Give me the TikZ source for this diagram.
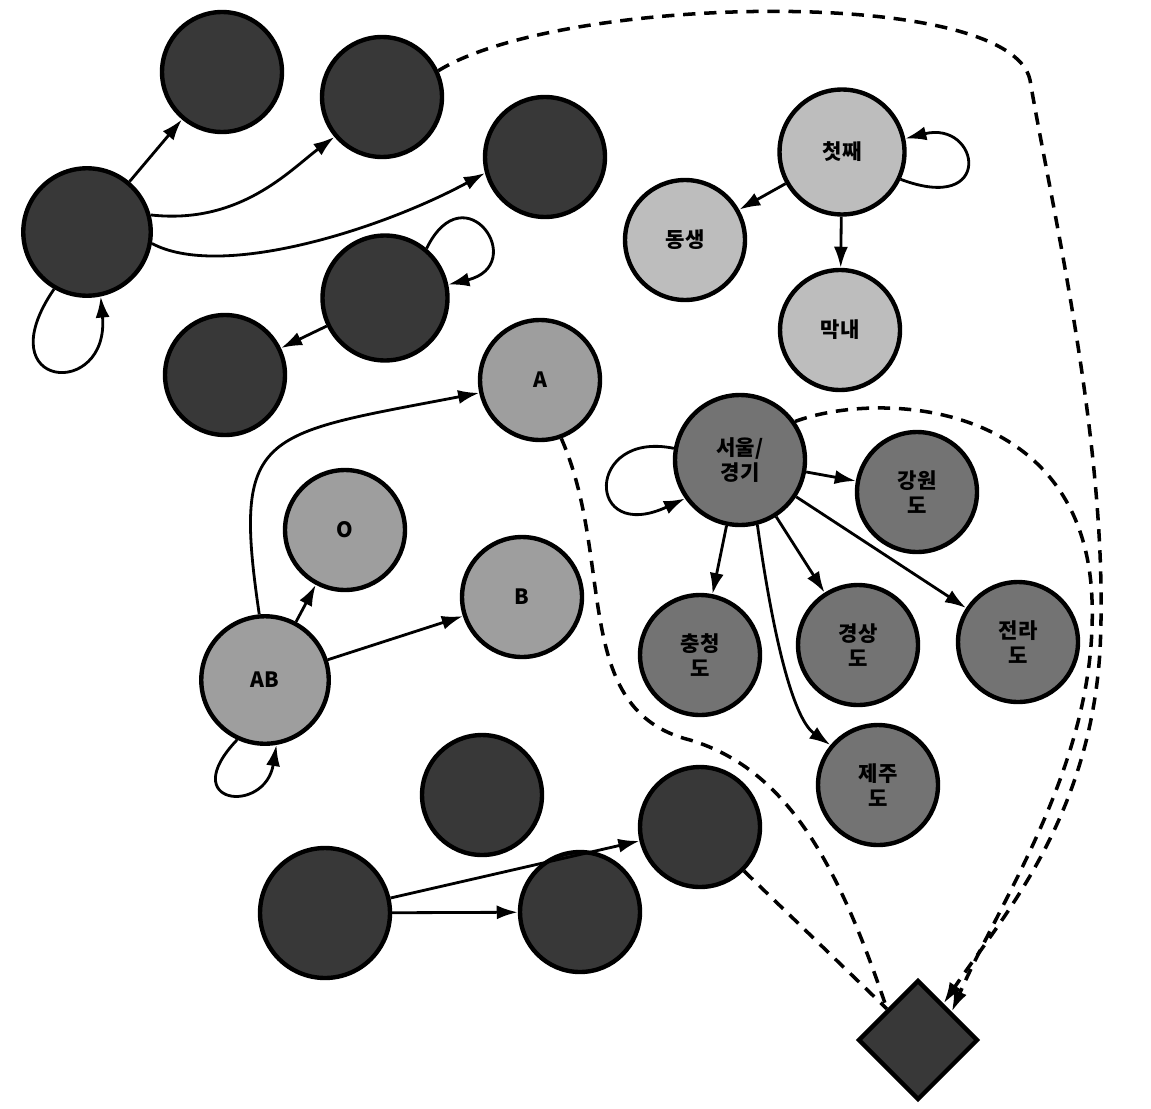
\documentclass[tikz,border=0pt]{standalone}
\usepackage{fontspec}
\setmainfont{Noto Sans CJK KR}
\usepackage{tikz}
\usetikzlibrary{arrows.meta, shapes.geometric}

\begin{document}
\begin{tikzpicture}[x=0.02cm, y=-0.02cm,
  st/.style={circle, draw, line width=2.5pt, minimum size=2.4cm, inner sep=0pt, align=center, font=\large\bfseries},
  dark/.style={st, fill=black!78},
  mid/.style={st, fill=black!55},
  blood/.style={st, fill=black!38},
  kid/.style={st, fill=black!26},
  link/.style={line width=1.6pt, -{Latex[length=12pt,width=8pt]}},
  dlink/.style={line width=2pt, dash pattern=on 7pt off 5pt}]
\useasboundingbox (0,0) rectangle (1151,1108);
% upper left group
\node[dark, minimum size=2.55cm] (fam) at (87,232) {};
\node[dark] (fa) at (222,72) {};
\node[dark] (fb) at (382,97) {};
\node[dark] (fc) at (545,157) {};
\node[dark, minimum size=2.5cm] (selfn) at (385,298) {};
\node[dark] (kin) at (225,375) {};
% blood types
\node[blood] (bA) at (540,380) {A};
\node[blood] (bO) at (345,530) {O};
\node[blood] (bB) at (522,597) {B};
\node[blood, minimum size=2.55cm] (bAB) at (265,680) {AB};
% siblings
\node[kid, minimum size=2.5cm] (first) at (842,152) {첫째};
\node[kid] (young) at (685,240) {동생};
\node[kid] (last) at (840,330) {막내};
% regions
\node[mid, minimum size=2.6cm] (seoul) at (740,460) {서울/\\경기};
\node[mid] (gw) at (917,492) {강원\\도};
\node[mid] (cc) at (700,655) {충청\\도};
\node[mid] (gs) at (858,645) {경상\\도};
\node[mid] (jl) at (1018,642) {전라\\도};
\node[mid] (jj) at (878,785) {제주\\도};
% lower group
\node[dark] (odd) at (482,795) {};
\node[dark, minimum size=2.6cm] (src) at (325,913) {};
\node[dark] (dst1) at (700,827) {};
\node[dark] (dst2) at (580,912) {};
\node[diamond, draw, line width=2.5pt, fill=black!78, aspect=1, inner sep=0pt,
  minimum width=2.4cm, minimum height=2.4cm] (goal) at (918,1040) {};

\draw[link] (fam) -- (fa);
\draw[link] (fam.15) .. controls (240,225) and (290,170) .. (fb.220);
\draw[link] (fam.350) .. controls (220,280) and (380,230) .. (fc.195);
\draw[link] (fam.240) .. controls (-15,390) and (110,400) .. (fam.282);
\draw[link] (selfn.50) .. controls (465,170) and (530,265) .. (selfn.12);
\draw[link] (selfn) -- (kin);
\draw[link] (bAB.95) .. controls (232,430) and (260,435) .. (bA.192);
\draw[link] (bAB) -- (bO);
\draw[link] (bAB) -- (bB);
\draw[link] (bAB.245) .. controls (175,805) and (265,815) .. (bAB.280);
\draw[link] (first) -- (young);
\draw[link] (first) -- (last);
\draw[link] (first.335) .. controls (995,215) and (980,120) .. (first.12);
\draw[link] (seoul.170) .. controls (585,430) and (585,545) .. (seoul.215);
\draw[link] (seoul) -- (gw);
\draw[link] (seoul) -- (cc);
\draw[link] (seoul) -- (gs);
\draw[link] (seoul) -- (jl);
\draw[link] (seoul.285) .. controls (775,650) and (795,720) .. (jj.140);
\draw[link] (src) -- (dst1);
\draw[link] (src) -- (dst2);

% dashed links to the diamond
\draw[dlink, -{Latex[length=12pt,width=8pt]}] (fb.25) .. controls (560,-5) and (1010,-15) .. (1030,80)
  .. controls (1050,200) and (1110,450) .. (1100,650) .. controls (1090,820) and (1000,920) .. (goal.55);
\draw[dlink, -{Latex[length=12pt,width=8pt]}] (seoul.35) .. controls (880,390) and (1085,400) .. (1092,600)
  .. controls (1098,760) and (1000,900) .. (goal.40);
\draw[dlink] (bA.290) .. controls (615,560) and (570,710) .. (690,740)
  .. controls (790,770) and (840,870) .. (goal.135);
\draw[dlink] (dst1.315) -- (goal.north west);
\end{tikzpicture}
\end{document}
